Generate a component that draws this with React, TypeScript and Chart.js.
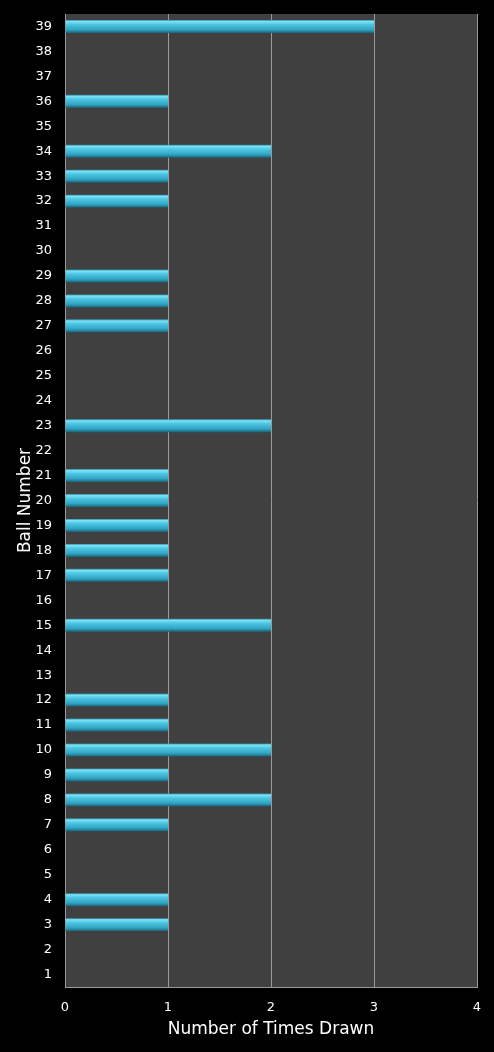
import React, { useEffect, useRef } from 'react';
import Chart from 'chart.js/auto';

const ballNumbers = Array.from({ length: 39 }, (_, i) => String(i + 1));
const timesDrawn = [
  0, 0, 1, 1, 0, 0, 1, 2, 1, 2,
  1, 1, 0, 0, 2, 0, 1, 1, 1, 1,
  1, 0, 2, 0, 0, 0, 1, 1, 1, 0,
  0, 1, 1, 2, 0, 1, 0, 0, 3,
];
const xTicks = [0, 1, 2, 3, 4];

const FONT = "'DejaVu Sans', 'Open Sans', sans-serif";

const plotBackground = {
  id: 'plotBackground',
  beforeDraw(chart: any) {
    const { ctx, chartArea } = chart;
    ctx.save();
    ctx.fillStyle = '#404040';
    ctx.fillRect(chartArea.left, chartArea.top, chartArea.right - chartArea.left, chartArea.bottom - chartArea.top);
    ctx.restore();
  },
};

const App: React.FC = () => {
  const chartRef = useRef<HTMLCanvasElement | null>(null);
  const chartInstance = useRef<Chart | null>(null);

  useEffect(() => {
    document.body.style.margin = '0';
    document.body.style.background = '#000';
    if (!chartRef.current) return;
    const ctx = chartRef.current.getContext('2d');
    if (!ctx) return;

    if (chartInstance.current) chartInstance.current.destroy();

    // bevelled cyan look: gradient across each bar's thickness
    const barFill = (c: any) => {
      const chart = c.chart;
      const y = chart.scales?.y;
      if (!y || c.dataIndex === undefined) return '#3cb8d8';
      const mid = y.getPixelForValue(c.dataIndex);
      if (!Number.isFinite(mid)) return '#3cb8d8';
      const g = chart.ctx.createLinearGradient(0, mid - 6.5, 0, mid + 6.5);
      g.addColorStop(0, '#2f8aa3');
      g.addColorStop(0.12, '#7fe2f5');
      g.addColorStop(0.35, '#4cc6e3');
      g.addColorStop(0.75, '#31a4c2');
      g.addColorStop(1, '#1b6378');
      return g;
    };

    chartInstance.current = new Chart(ctx, {
      type: 'bar',
      data: {
        labels: ballNumbers,
        datasets: [{
          label: 'Times Drawn',
          data: timesDrawn,
          backgroundColor: barFill,
          borderWidth: 0,
          barPercentage: 0.52,
          categoryPercentage: 1,
        }],
      },
      options: {
        indexAxis: 'y',
        responsive: true,
        maintainAspectRatio: false,
        animation: false,
        layout: { padding: { top: 14, right: 17, left: 0, bottom: 12 } },
        plugins: {
          legend: { display: false },
          tooltip: { enabled: false },
        },
        scales: {
          x: {
            min: 0,
            max: 4,
            afterBuildTicks: (axis: any) => { axis.ticks = xTicks.map((v) => ({ value: v })); },
            afterFit: (s: any) => { s.height = 53; s.paddingLeft = 0; s.paddingRight = 0; },
            grid: { color: '#9a9a9a', lineWidth: 1, drawTicks: false },
            border: { display: true, color: '#9a9a9a' },
            ticks: { color: '#fff', font: { family: FONT, size: 13 }, padding: 13 },
            title: {
              display: true,
              text: 'Number of Times Drawn',
              color: '#fff',
              font: { family: FONT, size: 17 },
              padding: { top: 0, bottom: 0 },
            },
          },
          y: {
            reverse: true,
            afterFit: (s: any) => { s.width = 65; s.paddingTop = 0; s.paddingBottom = 0; },
            grid: { display: false, drawTicks: false },
            border: { display: true, color: '#9a9a9a' },
            ticks: { color: '#fff', font: { family: FONT, size: 13 }, padding: 13, autoSkip: false },
            title: {
              display: true,
              text: 'Ball Number',
              color: '#fff',
              font: { family: FONT, size: 17 },
              padding: { top: 15, bottom: 0 },
            },
          },
        },
      },
      plugins: [plotBackground],
    });

    return () => {
      if (chartInstance.current) {
        chartInstance.current.destroy();
        chartInstance.current = null;
      }
    };
  }, []);

  return (
    <div style={{ width: 494, height: 1052, background: '#000' }}>
      <canvas ref={chartRef}></canvas>
    </div>
  );
};

export default App;
